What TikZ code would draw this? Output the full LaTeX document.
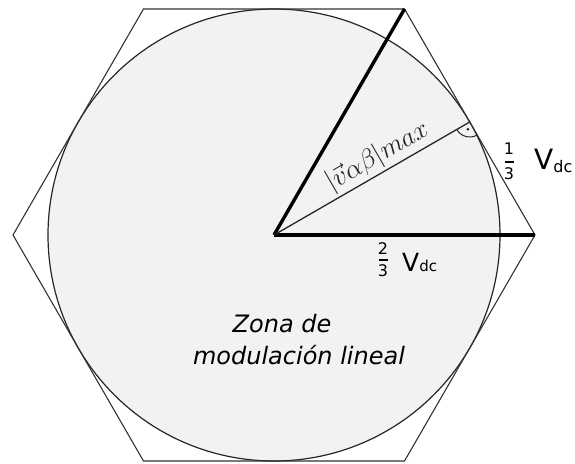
\RequirePackage{fix-cm}
\documentclass[tikz,border=0pt]{standalone}
\usepackage{fontspec}
\newfontfamily\dejavu{DejaVu Sans}
\usetikzlibrary{calc}
\begin{document}
\begin{tikzpicture}[x=1pt,y=1pt,
  hexline/.style={draw=black!80,line width=1.1pt},
  circline/.style={draw=black!85,line width=1.2pt,fill=black!5},
  thickline/.style={draw=black,line width=3.4pt},
  thinline/.style={draw=black!85,line width=1.3pt},
  lbl/.style={inner sep=0pt,font=\dejavu},
  digit/.style={inner sep=0pt,font=\dejavu\fontsize{16}{18}\selectfont},
  fracbar/.style={draw=black,line width=2.4pt},
]
\useasboundingbox (0,0) rectangle (575,463);
\coordinate (C) at (274,228);
\foreach \i in {0,...,5} \coordinate (H\i) at ($(C)+(\i*60:261)$);
\draw[circline] (C) circle (226);
\draw[hexline] (H0)--(H1)--(H2)--(H3)--(H4)--(H5)--cycle;
\coordinate (F) at ($(H0)!0.5!(H1)$);
\draw[thickline] (C) -- (H0);
\draw[thickline] (C) -- (H1);
\draw[thinline] (C) -- (F)
  node[pos=0.57, sloped, above=2pt, inner sep=0pt, text=black!85,
       font=\fontsize{27}{32}\selectfont] (vlbl) {$|\vec{v}\alpha\beta|max$};
\draw[draw=black!85, line width=1pt] ($(F)+(210:15)$) arc (210:300:15);
\fill[black!85] ($(F)+(255:7.5)$) circle (1.5);
% 1/3 Vdc
\node[digit] (n1) at (509,314) {1};
\draw[fracbar] (504.5,301) -- (513.5,301);
\node[digit] (d1) at (509,289.5) {3};
\node[lbl, anchor=base west] (v1) at (534,293)
  {\fontsize{28}{30}\selectfont V\raisebox{-3pt}{\fontsize{16}{18}\selectfont dc}};
% 2/3 Vdc
\node[digit] (n2) at (383,214.5) {2};
\draw[fracbar] (378.5,203) -- (387.5,203);
\node[digit] (d2) at (383,192) {3};
\node[lbl, anchor=base west] (v2) at (402,191)
  {\fontsize{25}{28}\selectfont V{\fontsize{15}{18}\selectfont dc}};
% zone text
\node[lbl, anchor=base, font=\dejavu\itshape\fontsize{24}{28}\selectfont] (z1) at (282,130) {Zona de};
\node[lbl, anchor=base, font=\dejavu\itshape\fontsize{24}{28}\selectfont] (z2) at (299,98) {modulación lineal};
\end{tikzpicture}
\end{document}
